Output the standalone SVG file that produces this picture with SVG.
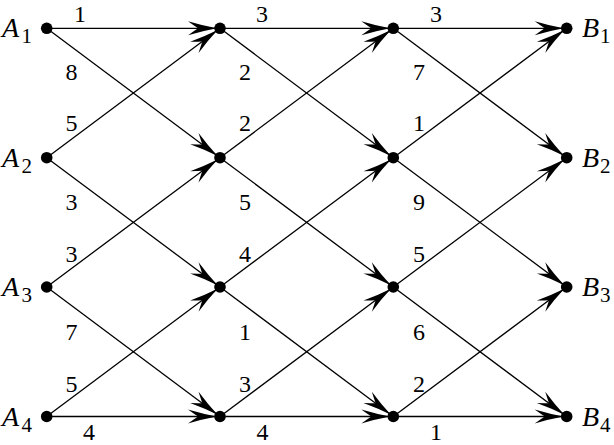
<svg xmlns="http://www.w3.org/2000/svg" width="614" height="445" viewBox="0 0 614 445">
<style>
.e{stroke:#000;stroke-width:1.3;fill:none;marker-end:url(#ah)}
.d{fill:#000}
text{font-family:'Liberation Serif','DejaVu Serif',serif;fill:#000}
.w{font-size:24px;text-anchor:middle}
.n{font-style:italic;font-size:28px}
.s{font-size:21px}
</style>
<defs>
<marker id="ah" markerUnits="userSpaceOnUse" orient="auto" refX="3" refY="0" overflow="visible" markerWidth="40" markerHeight="20">
<path d="M0,0 Q-14,-2.5 -29,-7 Q-22,-2 -19,0 Q-22,2 -29,7 Q-14,2.5 0,0 Z" fill="#000"/>
</marker>
</defs>
<g id="connectors">
<line class="e" x1="46.7" y1="28.3" x2="220" y2="28.3"/>
<line class="e" x1="46.7" y1="28.3" x2="220" y2="157.7"/>
<line class="e" x1="46.7" y1="157.7" x2="220" y2="28.3"/>
<line class="e" x1="46.7" y1="157.7" x2="220" y2="287"/>
<line class="e" x1="46.7" y1="287" x2="220" y2="157.7"/>
<line class="e" x1="46.7" y1="287" x2="220" y2="416.5"/>
<line class="e" x1="46.7" y1="416.5" x2="220" y2="287"/>
<line class="e" x1="46.7" y1="416.5" x2="220" y2="416.5"/>
<line class="e" x1="220" y1="28.3" x2="393.3" y2="28.3"/>
<line class="e" x1="220" y1="28.3" x2="393.3" y2="157.7"/>
<line class="e" x1="220" y1="157.7" x2="393.3" y2="28.3"/>
<line class="e" x1="220" y1="157.7" x2="393.3" y2="287"/>
<line class="e" x1="220" y1="287" x2="393.3" y2="157.7"/>
<line class="e" x1="220" y1="287" x2="393.3" y2="416.5"/>
<line class="e" x1="220" y1="416.5" x2="393.3" y2="287"/>
<line class="e" x1="220" y1="416.5" x2="393.3" y2="416.5"/>
<line class="e" x1="393.3" y1="28.3" x2="566.7" y2="28.3"/>
<line class="e" x1="393.3" y1="28.3" x2="566.7" y2="157.7"/>
<line class="e" x1="393.3" y1="157.7" x2="566.7" y2="28.3"/>
<line class="e" x1="393.3" y1="157.7" x2="566.7" y2="287"/>
<line class="e" x1="393.3" y1="287" x2="566.7" y2="157.7"/>
<line class="e" x1="393.3" y1="287" x2="566.7" y2="416.5"/>
<line class="e" x1="393.3" y1="416.5" x2="566.7" y2="287"/>
<line class="e" x1="393.3" y1="416.5" x2="566.7" y2="416.5"/>
<g id="weights">
<text class="w" x="80" y="21.5">1</text>
<text class="w" x="262" y="21.5">3</text>
<text class="w" x="436" y="21.5">3</text>
<text class="w" x="71.5" y="80">8</text>
<text class="w" x="245" y="80">2</text>
<text class="w" x="419" y="80">7</text>
<text class="w" x="71.5" y="131">5</text>
<text class="w" x="245" y="131">2</text>
<text class="w" x="419" y="131">1</text>
<text class="w" x="71.5" y="210">3</text>
<text class="w" x="245" y="210">5</text>
<text class="w" x="419" y="210">9</text>
<text class="w" x="71.5" y="262">3</text>
<text class="w" x="245" y="262">4</text>
<text class="w" x="419" y="262">5</text>
<text class="w" x="71.5" y="340">7</text>
<text class="w" x="245" y="340">1</text>
<text class="w" x="419" y="340">6</text>
<text class="w" x="71.5" y="392">5</text>
<text class="w" x="245" y="392">3</text>
<text class="w" x="419" y="392">2</text>
<text class="w" x="89" y="439.5">4</text>
<text class="w" x="262.5" y="439.5">4</text>
<text class="w" x="436" y="439.5">1</text>
</g>
</g>
<g id="A1"><circle class="d" cx="46.7" cy="28.3" r="5.8"/><text class="n" x="2" y="37">A</text><text class="s" x="21.5" y="43">1</text></g>
<g id="A2"><circle class="d" cx="46.7" cy="157.7" r="5.8"/><text class="n" x="2" y="166.5">A</text><text class="s" x="21.5" y="172.5">2</text></g>
<g id="A3"><circle class="d" cx="46.7" cy="287" r="5.8"/><text class="n" x="2" y="296">A</text><text class="s" x="21.5" y="302">3</text></g>
<g id="A4"><circle class="d" cx="46.7" cy="416.5" r="5.8"/><text class="n" x="2" y="425.5">A</text><text class="s" x="21.5" y="431.5">4</text></g>
<g id="N12"><circle class="d" cx="220" cy="28.3" r="5.8"/></g>
<g id="N22"><circle class="d" cx="220" cy="157.7" r="5.8"/></g>
<g id="N32"><circle class="d" cx="220" cy="287" r="5.8"/></g>
<g id="N42"><circle class="d" cx="220" cy="416.5" r="5.8"/></g>
<g id="N13"><circle class="d" cx="393.3" cy="28.3" r="5.8"/></g>
<g id="N23"><circle class="d" cx="393.3" cy="157.7" r="5.8"/></g>
<g id="N33"><circle class="d" cx="393.3" cy="287" r="5.8"/></g>
<g id="N43"><circle class="d" cx="393.3" cy="416.5" r="5.8"/></g>
<g id="B1"><circle class="d" cx="566.7" cy="28.3" r="5.8"/><text class="n" x="582" y="37">B</text><text class="s" x="600" y="43">1</text></g>
<g id="B2"><circle class="d" cx="566.7" cy="157.7" r="5.8"/><text class="n" x="582" y="166.5">B</text><text class="s" x="600" y="172.5">2</text></g>
<g id="B3"><circle class="d" cx="566.7" cy="287" r="5.8"/><text class="n" x="582" y="296">B</text><text class="s" x="600" y="302">3</text></g>
<g id="B4"><circle class="d" cx="566.7" cy="416.5" r="5.8"/><text class="n" x="582" y="425.5">B</text><text class="s" x="600" y="431.5">4</text></g>
</svg>
